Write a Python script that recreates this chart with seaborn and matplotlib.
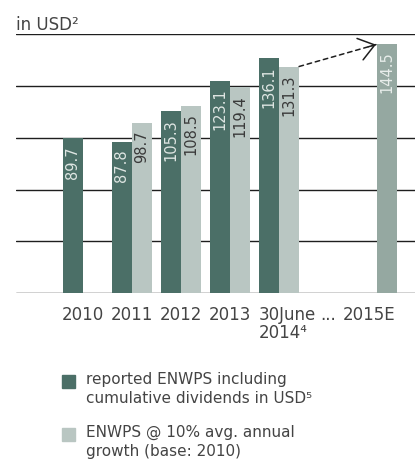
import numpy as np
import pandas as pd
import matplotlib
matplotlib.use("Agg")
import matplotlib.pyplot as plt
import matplotlib.transforms as mtransforms
import seaborn as sns
from matplotlib.patches import Rectangle

# dados
periodos = ['2010', '2011', '2012', '2013', '30June\n2014⁴', '...', '2015E']
enwps_reportado = [89.7, 87.8, 105.3, 123.1, 136.1, np.nan, np.nan]
enwps_10pct = [np.nan, 98.7, 108.5, 119.4, 131.3, np.nan, 144.5]

serie_a = 'reported ENWPS including\ncumulative dividends in USD⁵'
serie_b = 'ENWPS @ 10% avg. annual\ngrowth (base: 2010)'

escuro = '#4b6f67'
claro = '#b9c6c2'
estimado = '#95a8a1'
cor_texto = '#444444'

df = pd.DataFrame({
    'periodo': periodos * 2,
    'valor': enwps_reportado + enwps_10pct,
    'serie': [serie_a] * len(periodos) + [serie_b] * len(periodos),
})

sns.set_style("white")
plt.rcParams['font.family'] = ['DejaVu Sans']

fig = plt.figure(figsize=(4.15, 4.63), dpi=100)
ax = fig.add_axes([16 / 415, 1 - 293 / 463, 399 / 415, (293 - 34.25) / 463])

sns.barplot(data=df, x='periodo', y='valor', hue='serie', order=periodos,
            hue_order=[serie_a, serie_b], palette=[escuro, claro],
            width=0.82, saturation=1, linewidth=0, ax=ax, legend=False, zorder=3)

ax.set_ylim(0, 150)
ax.set_xlim(-1.367, 6.776)
for y in range(0, 151, 30):
    ax.axhline(y, color='#1e1e1e', lw=1.0, zorder=1)

for s in ax.spines.values():
    s.set_visible(False)
ax.set_yticks([])
ax.set_xlabel('')
ax.set_ylabel('')
ax.tick_params(axis='x', length=0, pad=9, labelsize=12, labelcolor=cor_texto)
# pequenos deslocamentos como no original
desloc = {'30June\n2014⁴': 8, '2015E': -8}
for lbl in ax.get_xticklabels():
    lbl.set_linespacing(1.05)
    if '\n' in lbl.get_text():
        lbl.set_multialignment('left')
    dx = desloc.get(lbl.get_text(), 0)
    if dx:
        lbl.set_transform(lbl.get_transform() + mtransforms.ScaledTranslation(dx / 100, 0, fig.dpi_scale_trans))

# rótulos de valor dentro das barras (seaborn descarta os NaN)
barras = {}
for cont, serie, vals in zip(ax.containers, [serie_a, serie_b], [enwps_reportado, enwps_10pct]):
    validos = [(per, v) for per, v in zip(periodos, vals) if not np.isnan(v)]
    for p, (per, v) in zip(cont.patches, validos):
        barras[(serie, per)] = p
        cor_txt = '#dfe6e3' if serie == serie_a else '#3a3a3a'
        if per == '2015E':
            p.set_facecolor(estimado)
            cor_txt = '#e8edeb'
        ax.text(p.get_x() + p.get_width() / 2, v - 4.5, f'{v:.1f}', rotation=90,
                ha='center', va='top', color=cor_txt, fontsize=10.5, zorder=4)

# seta tracejada até 2015E
p0 = barras[(serie_b, periodos[4])]
p1 = barras[(serie_b, '2015E')]
x0, y0 = p0.get_x() + p0.get_width(), p0.get_height()
x1, y1 = p1.get_x() - 0.02, p1.get_height() - 0.5
ax.annotate('', xy=(x1, y1), xytext=(x0, y0),
            arrowprops=dict(arrowstyle='-', ls=(0, (3, 2.5)), lw=1.1, color='#1e1e1e',
                            shrinkA=0, shrinkB=0), zorder=5)
ax.annotate('', xy=(x1, y1), xytext=(x1 - 0.1 * (x1 - x0), y1 - 0.1 * (y1 - y0)),
            arrowprops=dict(arrowstyle='->, head_length=1.1, head_width=0.8', lw=1.1,
                            mutation_scale=10, color='#1e1e1e', shrinkA=0, shrinkB=0), zorder=5)

fig.text(16 / 415, 1 - 30 / 463, 'in USD²', fontsize=12, color=cor_texto)

# legenda desenhada à mão: quadrado alinhado com a primeira linha
W, H = 415, 463
for i, (nome, cor) in enumerate([(serie_a, escuro), (serie_b, claro)]):
    topo = 375 + i * 53
    fig.patches.append(Rectangle((62 / W, 1 - (topo + 13) / H), 13 / W, 13 / H,
                                 transform=fig.transFigure, color=cor))
    fig.text(86 / W, 1 - (topo - 3) / H, nome, fontsize=11, color=cor_texto,
             va='top', linespacing=1.35)

fig.savefig('out.png', dpi=100)
